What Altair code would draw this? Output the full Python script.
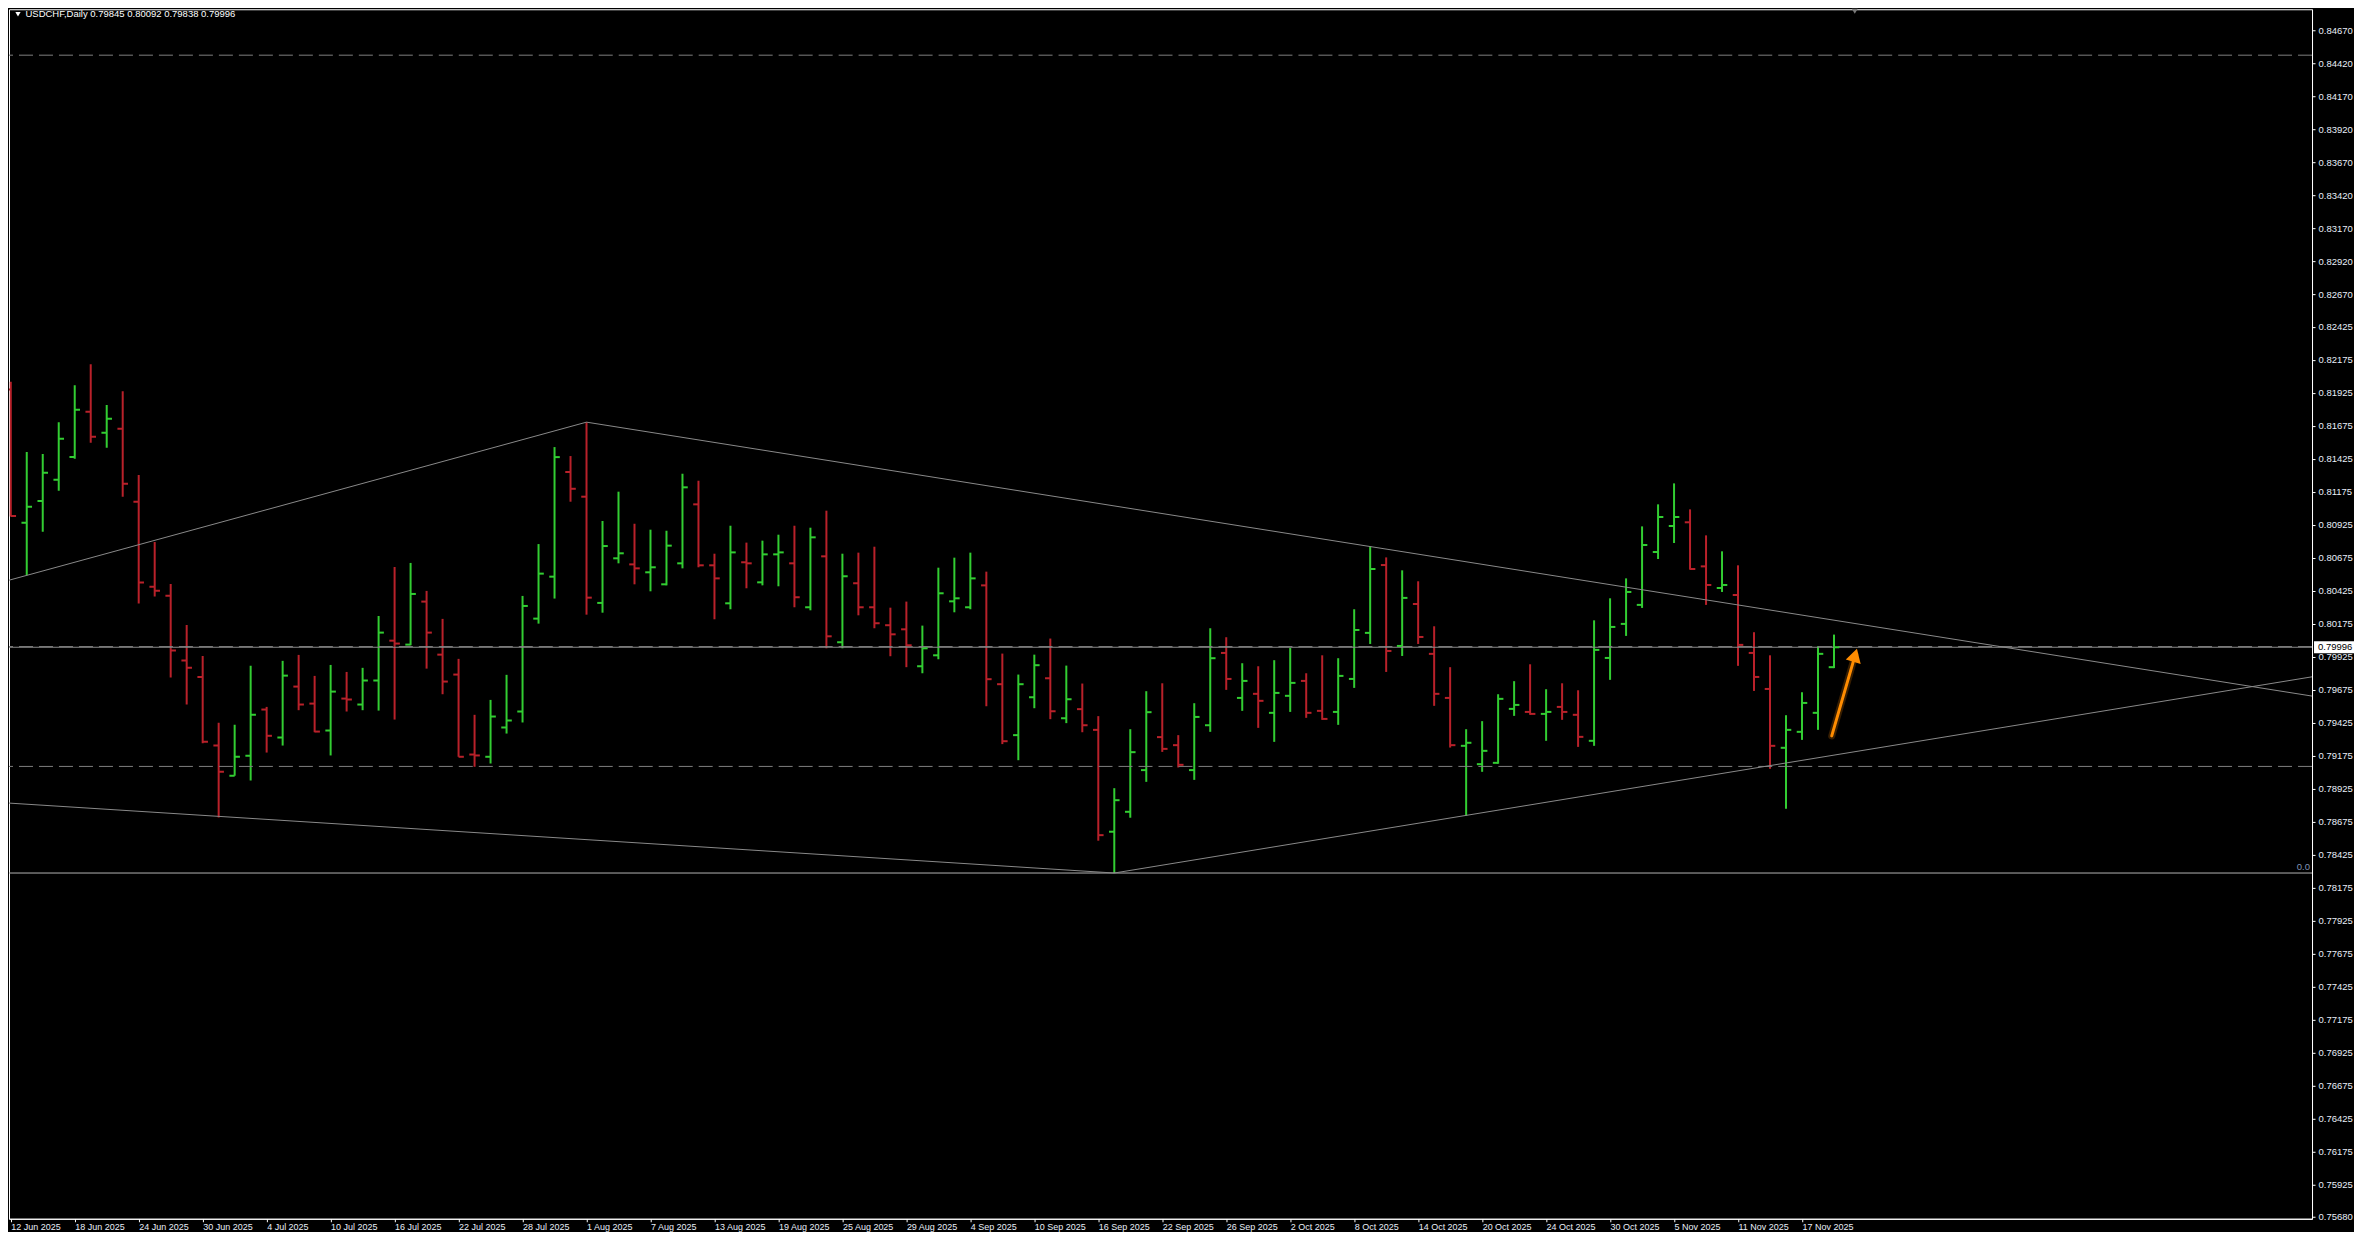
import altair as alt
import pandas as pd
import numpy as np

# ---------------- data (USDCHF daily) ----------------
opens = [0.81950, 0.80940, 0.81104, 0.81266, 0.81437, 0.81780, 0.81621, 0.81652, 0.81099, 0.80455,
         0.80387, 0.79895, 0.79771, 0.79251, 0.79022, 0.79173, 0.79524, 0.79312, 0.79698, 0.79569,
         0.79365, 0.79607, 0.79562, 0.79744, 0.80046, 0.80016, 0.80342, 0.79940, 0.79789, 0.79183,
         0.79166, 0.79388, 0.79509, 0.80213, 0.80531, 0.81324, 0.81137, 0.80332, 0.80670, 0.80624,
         0.80564, 0.80473, 0.80632, 0.81079, 0.80617, 0.80329, 0.80640, 0.80488, 0.80700, 0.80632,
         0.80299, 0.80685, 0.80034, 0.80481, 0.80299, 0.80163, 0.80132, 0.79852, 0.79935, 0.80344,
         0.80299, 0.80465, 0.79716, 0.79330, 0.79617, 0.79761, 0.79458, 0.79527, 0.79370, 0.78598,
         0.78749, 0.79065, 0.79315, 0.79254, 0.79065, 0.79405, 0.79953, 0.79612, 0.79643, 0.79499,
         0.79628, 0.79741, 0.79514, 0.79506, 0.79756, 0.80105, 0.80619, 0.80006, 0.80324, 0.79946,
         0.79612, 0.79249, 0.79110, 0.79120, 0.79529, 0.79506, 0.79491, 0.79544, 0.79484, 0.79287,
         0.79915, 0.80173, 0.80317, 0.80718, 0.80915, 0.80943, 0.80609, 0.80445, 0.80392, 0.79953,
         0.79680, 0.79234, 0.79355, 0.79499, 0.79845]
highs = [0.82009, 0.81475, 0.81460, 0.81702, 0.81982, 0.82141, 0.81831, 0.81937, 0.81301, 0.80794,
         0.80476, 0.80165, 0.79930, 0.79423, 0.79408, 0.79855, 0.79544, 0.79893, 0.79938, 0.79779,
         0.79862, 0.79809, 0.79840, 0.80233, 0.80604, 0.80635, 0.80423, 0.80211, 0.79908, 0.79484,
         0.79597, 0.79787, 0.80385, 0.80778, 0.81513, 0.81445, 0.81702, 0.80953, 0.81175, 0.80932,
         0.80887, 0.80879, 0.81311, 0.81258, 0.80705, 0.80917, 0.80789, 0.80804, 0.80849, 0.80917,
         0.80902, 0.81031, 0.80705, 0.80713, 0.80758, 0.80296, 0.80342, 0.80160, 0.80599, 0.80675,
         0.80713, 0.80569, 0.79948, 0.79789, 0.79940, 0.80062, 0.79857, 0.79721, 0.79474, 0.78928,
         0.79375, 0.79663, 0.79723, 0.79330, 0.79572, 0.80140, 0.80072, 0.79875, 0.79852, 0.79898,
         0.79991, 0.79799, 0.79935, 0.79913, 0.80284, 0.80761, 0.80677, 0.80579, 0.80496, 0.80155,
         0.79845, 0.79375, 0.79436, 0.79640, 0.79739, 0.79867, 0.79678, 0.79723, 0.79670, 0.80200,
         0.80367, 0.80518, 0.80912, 0.81079, 0.81238, 0.81041, 0.80844, 0.80723, 0.80617, 0.80110,
         0.79935, 0.79481, 0.79655, 0.80004, 0.80092]
lows = [0.80986, 0.80541, 0.80872, 0.81182, 0.81425, 0.81546, 0.81508, 0.81137, 0.80327, 0.80380,
        0.79766, 0.79562, 0.79269, 0.78706, 0.79022, 0.78986, 0.79198, 0.79251, 0.79519, 0.79352,
        0.79176, 0.79509, 0.79519, 0.79516, 0.79448, 0.80011, 0.79834, 0.79640, 0.79166, 0.79090,
        0.79115, 0.79342, 0.79426, 0.80175, 0.80365, 0.81099, 0.80243, 0.80258, 0.80632, 0.80473,
        0.80420, 0.80465, 0.80594, 0.80602, 0.80208, 0.80284, 0.80443, 0.80465, 0.80458, 0.80299,
        0.80276, 0.79988, 0.79988, 0.80238, 0.80140, 0.79928, 0.79845, 0.79799, 0.79905, 0.80261,
        0.80284, 0.79549, 0.79262, 0.79140, 0.79534, 0.79451, 0.79421, 0.79352, 0.78530, 0.78285,
        0.78704, 0.78976, 0.79203, 0.79085, 0.78991, 0.79355, 0.79673, 0.79514, 0.79385, 0.79279,
        0.79506, 0.79461, 0.79446, 0.79408, 0.79688, 0.80021, 0.79809, 0.79930, 0.80021, 0.79552,
        0.79236, 0.78719, 0.79052, 0.79113, 0.79476, 0.79484, 0.79287, 0.79446, 0.79241, 0.79249,
        0.79749, 0.80082, 0.80294, 0.80665, 0.80786, 0.80584, 0.80317, 0.80415, 0.79855, 0.79665,
        0.79075, 0.78772, 0.79294, 0.79370, 0.79838]
closes = [0.80990, 0.81061, 0.81319, 0.81576, 0.81796, 0.81591, 0.81727, 0.81235, 0.80486, 0.80425,
          0.79971, 0.79840, 0.79279, 0.79052, 0.79166, 0.79484, 0.79325, 0.79781, 0.79562, 0.79357,
          0.79660, 0.79600, 0.79744, 0.80107, 0.80024, 0.80400, 0.80107, 0.79736, 0.79166, 0.79176,
          0.79471, 0.79441, 0.80309, 0.80554, 0.81437, 0.81197, 0.80372, 0.80763, 0.80708, 0.80594,
          0.80602, 0.80766, 0.81208, 0.80617, 0.80518, 0.80715, 0.80632, 0.80700, 0.80715, 0.80375,
          0.80829, 0.80079, 0.80534, 0.80299, 0.80178, 0.80094, 0.80011, 0.79988, 0.80405, 0.80367,
          0.80518, 0.79754, 0.79284, 0.79716, 0.79860, 0.79511, 0.79602, 0.79405, 0.78572, 0.78837,
          0.79201, 0.79504, 0.79226, 0.79105, 0.79468, 0.79913, 0.79756, 0.79741, 0.79590, 0.79650,
          0.79726, 0.79499, 0.79453, 0.79779, 0.80127, 0.80589, 0.79968, 0.80370, 0.80074, 0.79643,
          0.79254, 0.79272, 0.79211, 0.79605, 0.79559, 0.79491, 0.79506, 0.79506, 0.79317, 0.79976,
          0.80150, 0.80415, 0.80771, 0.80983, 0.80983, 0.80589, 0.80468, 0.80468, 0.80014, 0.79771,
          0.79249, 0.79370, 0.79574, 0.79946, 0.79996]

date_labels = ["12 Jun 2025", "18 Jun 2025", "24 Jun 2025", "30 Jun 2025", "4 Jul 2025",
               "10 Jul 2025", "16 Jul 2025", "22 Jul 2025", "28 Jul 2025", "1 Aug 2025",
               "7 Aug 2025", "13 Aug 2025", "19 Aug 2025", "25 Aug 2025", "29 Aug 2025",
               "4 Sep 2025", "10 Sep 2025", "16 Sep 2025", "22 Sep 2025", "26 Sep 2025",
               "2 Oct 2025", "8 Oct 2025", "14 Oct 2025", "20 Oct 2025", "24 Oct 2025",
               "30 Oct 2025", "5 Nov 2025", "11 Nov 2025", "17 Nov 2025"]
label_step = 4  # one date label every 4 bars

y_ticks = [0.84670, 0.84420, 0.84170, 0.83920, 0.83670, 0.83420, 0.83170, 0.82920, 0.82670,
           0.82425, 0.82175, 0.81925, 0.81675, 0.81425, 0.81175, 0.80925, 0.80675, 0.80425,
           0.80175, 0.79925, 0.79675, 0.79425, 0.79175, 0.78925, 0.78675, 0.78425, 0.78175,
           0.77925, 0.77675, 0.77425, 0.77175, 0.76925, 0.76675, 0.76425, 0.76175, 0.75925,
           0.75680]

symbol_name = "USDCHF,Daily"
dashed_levels = [0.84483, 0.80001, 0.79093]
bid_price = 0.79996
fibo_level = [0.78285]
fibo_text = ["0.0"]

trend_seg = [0, 0, 1, 1, 2, 2, 3, 3]
trend_x = [-0.11, 36, 36, 143.89, -0.11, 69, 69, 143.89]
trend_p = [0.80504, 0.81702, 0.81702, 0.79626, 0.78815, 0.78285, 0.78285, 0.79772]

arrow_x = [113.86, 115.32]
arrow_p = [0.79324, 0.79935]
shift_marker_x = [115.3]

# ---------------- layout ----------------
W, H = 2304, 1210
X_DOMAIN = [-0.11, 143.89]
Y_DOMAIN = [0.75665, 0.84831]
GREEN = "#32CD32"
RED = "#B9212A"
LINE_GREY = "#8a8a8a"
TEXT_COL = "#E8EEF8"
FONT = "Liberation Sans"

n = len(opens)
df = pd.DataFrame({"i": np.arange(n), "open": opens, "high": highs, "low": lows, "close": closes})
df["dir"] = np.where(df["close"] >= df["open"], "up", "down")
df["xl"] = df["i"] - 0.33
df["xr"] = df["i"] + 0.33

xs = alt.Scale(domain=X_DOMAIN, nice=False, zero=False)
ys = alt.Scale(domain=Y_DOMAIN, nice=False, zero=False)
color = alt.Color("dir:N", scale=alt.Scale(domain=["up", "down"], range=[GREEN, RED]), legend=None)

label_expr = "[" + ",".join("'%s'" % s for s in date_labels) + "][round(datum.value/%d)]" % label_step
x_axis = alt.Axis(values=[k * label_step for k in range(len(date_labels))], labelExpr=label_expr,
                  labelAlign="left", labelBaseline="top", labelColor=TEXT_COL, labelFont=FONT,
                  labelFontSize=9, labelPadding=1, tickColor="#ffffff", tickSize=3,
                  domainColor="#ffffff", grid=False, labelOverlap=False, labelFlush=False, title=None)
y_axis = alt.Axis(orient="right", values=y_ticks, labelExpr="format(datum.value, '.5f')",
                  labelColor=TEXT_COL, labelFont=FONT, labelFontSize=9.5, labelPadding=3,
                  tickColor="#ffffff", tickSize=3, domainColor="#ffffff", grid=False,
                  labelOverlap=False, labelFlush=False, labelBaseline="middle", title=None)


def X(field):
    return alt.X(field, scale=xs, axis=x_axis)


def Y(field):
    return alt.Y(field, scale=ys, axis=y_axis)


base = alt.Chart(df)
wick = base.mark_rule(strokeWidth=2, clip=True).encode(
    x=X("i:Q"), y=Y("low:Q"), y2="high:Q", color=color)
open_tick = base.mark_rule(strokeWidth=2, clip=True).encode(
    x=X("xl:Q"), x2="i:Q", y=Y("open:Q"), color=color)
close_tick = base.mark_rule(strokeWidth=2, clip=True).encode(
    x=X("i:Q"), x2="xr:Q", y=Y("close:Q"), color=color)

dashed = alt.Chart(pd.DataFrame({"p": dashed_levels})).mark_rule(
    color="#808080", strokeWidth=1, strokeDash=[14, 6]).encode(y=Y("p:Q"))
bid = alt.Chart(pd.DataFrame({"p": [bid_price]})).mark_rule(
    color="#8a8a8a", strokeWidth=1).encode(y=Y("p:Q"))
fibo_df = pd.DataFrame({"p": fibo_level, "t": fibo_text})
fibo = alt.Chart(fibo_df).mark_rule(color="#b4b4b4", strokeWidth=1).encode(y=Y("p:Q"))
fibo_lbl = alt.Chart(fibo_df).mark_text(align="right", baseline="bottom", dy=-1, color="#7f92b4",
                                        font=FONT, fontSize=9.5).encode(
    x=alt.value(W - 2), y=Y("p:Q"), text="t:N")

trend_df = pd.DataFrame({"seg": trend_seg, "x": trend_x, "p": trend_p, "o": range(len(trend_x))})
trends = alt.Chart(trend_df).mark_line(color=LINE_GREY, strokeWidth=1, clip=True).encode(
    x=X("x:Q"), y=Y("p:Q"), detail="seg:N", order="o:Q")

arrow_df = pd.DataFrame({"x": arrow_x, "p": arrow_p})
arrow_glow = alt.Chart(arrow_df).mark_line(color="#FF8A00", strokeWidth=7, opacity=0.22,
                                           strokeCap="round").encode(x=X("x:Q"), y=Y("p:Q"))
arrow_line = alt.Chart(arrow_df).mark_line(color="#FF8C00", strokeWidth=3,
                                           strokeCap="round").encode(x=X("x:Q"), y=Y("p:Q"))
arrow_head = alt.Chart(arrow_df.tail(1)).mark_point(shape="triangle-up", filled=True, size=240,
                                                    angle=16, color="#FF8C00", opacity=1).encode(
    x=X("x:Q"), y=Y("p:Q"))

box_df = pd.DataFrame({"p": [bid_price], "t": ["%.5f" % bid_price]})
price_box = alt.Chart(box_df).mark_point(shape="M-1,-0.3L1,-0.3L1,0.3L-1,0.3Z", filled=True,
                                         size=1600, color="#ffffff", opacity=1, strokeWidth=0).encode(
    x=alt.value(W + 22), y=Y("p:Q"))
price_txt = alt.Chart(box_df).mark_text(align="left", baseline="middle", color="#000000",
                                        font=FONT, fontSize=9.5).encode(
    x=alt.value(W + 6), y=Y("p:Q"), text="t:N")

title_df = pd.DataFrame({"t": [symbol_name + "  " + " ".join("%.5f" % v for v in
                                 [opens[-1], highs[-1], lows[-1], closes[-1]])]})
title_txt = alt.Chart(title_df).mark_text(align="left", baseline="middle", color="#ffffff",
                                          font=FONT, fontSize=9.5).encode(
    x=alt.value(16.5), y=alt.value(5), text="t:N")
title_tri = alt.Chart(title_df).mark_point(shape="triangle-down", filled=True, size=28,
                                           color="#ffffff", opacity=1).encode(
    x=alt.value(9), y=alt.value(5))

shift_df = pd.DataFrame({"x": shift_marker_x})
shift_mark = alt.Chart(shift_df).mark_point(shape="triangle-down", filled=True, size=36,
                                            color="#7a7a7a", opacity=1).encode(
    x=X("x:Q"), y=alt.value(2))

chart = alt.layer(
    wick, dashed, bid, fibo, trends, open_tick, close_tick, fibo_lbl,
    arrow_glow, arrow_line, arrow_head, price_box, price_txt, title_tri, title_txt, shift_mark
).properties(
    width=W, height=H,
    padding={"left": 0, "top": 0, "right": 0, "bottom": 0}
).configure(
    background="#000000"
).configure_view(
    stroke="#ffffff", strokeWidth=1
)

chart.save("out.html", embed_options={"renderer": "svg", "actions": False})
